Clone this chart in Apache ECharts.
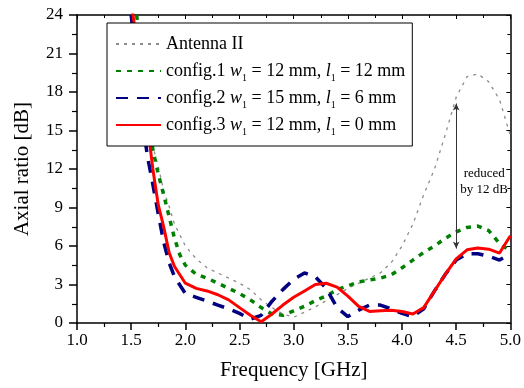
<!DOCTYPE html>
<html>
<head>
<meta charset="utf-8">
<script src="https://cdn.jsdelivr.net/npm/echarts@6/dist/echarts.min.js"></script>
<style>html,body{margin:0;padding:0;background:#fff;}#c{width:524px;height:388px;}</style>
</head>
<body>
<div id="c"></div>
<script>
const seriesNames = ['Antenna II', 'config.1 w1 = 12 mm, l1 = 12 mm', 'config.2 w1 = 15 mm, l1 = 6 mm', 'config.3 w1 = 12 mm, l1 = 0 mm'];
const xTicks = [1.0, 1.5, 2.0, 2.5, 3.0, 3.5, 4.0, 4.5, 5.0];
const yTicks = [0, 3, 6, 9, 12, 15, 18, 21, 24];

const antenna2 = [[1.55,24.5],[1.6,21],[1.65,17.5],[1.7,13.8],[1.75,12.2],[1.8,10.3],[1.85,9.1],[1.9,7.7],[2.0,6.0],[2.1,5.0],[2.2,4.3],[2.3,3.9],[2.4,3.5],[2.5,3.1],[2.6,2.6],[2.7,1.8],[2.8,1.2],[2.9,0.7],[3.0,0.45],[3.1,0.85],[3.2,1.25],[3.3,1.75],[3.4,2.2],[3.5,2.7],[3.6,3.1],[3.7,3.5],[3.8,3.9],[3.9,4.7],[4.0,6.0],[4.1,7.7],[4.2,10.0],[4.3,12.0],[4.4,14.7],[4.5,17.6],[4.6,19.2],[4.7,19.4],[4.8,18.8],[4.9,17.4],[5.0,14.6]];
const config1 = [[1.55,24],[1.6,20.5],[1.65,17],[1.7,13.5],[1.75,11.6],[1.8,10],[1.85,8.3],[1.9,6.6],[1.95,5.3],[2.0,4.5],[2.1,3.8],[2.2,3.5],[2.3,3.1],[2.4,2.7],[2.5,2.3],[2.6,1.8],[2.7,1.2],[2.8,0.7],[2.9,0.6],[3.0,0.95],[3.1,1.3],[3.2,1.75],[3.3,2.1],[3.4,2.6],[3.5,2.9],[3.6,3.2],[3.7,3.35],[3.8,3.5],[3.9,3.75],[4.0,4.3],[4.1,4.9],[4.2,5.5],[4.3,6.0],[4.4,6.6],[4.5,7.1],[4.6,7.45],[4.7,7.55],[4.8,7.2],[4.9,6.2],[5.0,5.6]];
const config2 = [[1.5,24],[1.55,20],[1.6,16],[1.65,13],[1.7,10.8],[1.75,8.5],[1.8,6.3],[1.85,4.7],[1.9,3.6],[2.0,2.3],[2.1,2.0],[2.2,1.7],[2.3,1.4],[2.4,1.1],[2.5,0.75],[2.6,0.3],[2.7,0.6],[2.8,1.7],[2.9,2.6],[3.0,3.4],[3.1,3.9],[3.2,3.6],[3.3,2.7],[3.4,1.2],[3.5,0.5],[3.6,1.0],[3.7,1.4],[3.8,1.4],[3.9,1.1],[4.0,0.75],[4.1,0.5],[4.2,1.1],[4.3,2.5],[4.4,3.8],[4.5,4.9],[4.6,5.4],[4.7,5.4],[4.8,5.2],[4.9,4.9],[5.0,5.4]];
const config3 = [[1.5,25],[1.55,22],[1.6,18.5],[1.65,15.5],[1.7,12],[1.75,9.2],[1.8,7.5],[1.85,5.5],[1.9,4.4],[2.0,3.1],[2.1,2.7],[2.2,2.5],[2.3,2.2],[2.4,1.8],[2.5,1.2],[2.6,0.6],[2.7,0.1],[2.8,0.7],[2.9,1.4],[3.0,2.0],[3.1,2.5],[3.2,3.0],[3.3,3.1],[3.4,2.8],[3.5,2.1],[3.6,1.3],[3.7,0.9],[3.8,0.95],[3.9,1.0],[4.0,0.9],[4.1,0.7],[4.2,1.2],[4.3,2.5],[4.4,3.8],[4.5,5.0],[4.6,5.7],[4.7,5.85],[4.8,5.75],[4.9,5.45],[5.0,6.8]];
const arrowX = 4.5, arrowTop = 17.1, arrowBottom = 5.8;
const annotation = ['reduced', 'by 12 dB'];

const FONT = 'Liberation Serif';
const chart = echarts.init(document.getElementById('c'), null, {renderer: 'canvas'});

function legendFmt(name) {
  return name.replace('w1', '{i|w}{s|1}').replace('l1', '{i|l}{s|1}');
}

const axisCommon = {
  axisLine: {show: true, onZero: false, lineStyle: {color: '#000', width: 1.5}},
  splitLine: {show: false}
};

chart.setOption({
  animation: false,
  backgroundColor: '#fff',
  grid: {left: 77, right: 11, top: 15, bottom: 65},
  legend: {
    orient: 'vertical', left: 107, top: 23,
    padding: [9, 7, 9, 8], itemGap: 3, itemWidth: 45, itemHeight: 14,
    backgroundColor: '#fff', borderColor: '#000', borderWidth: 1,
    data: seriesNames,
    formatter: legendFmt,
    itemStyle: {opacity: 0},
    textStyle: {
      fontFamily: FONT, fontSize: 18, color: '#000', lineHeight: 24,
      rich: {
        i: {fontFamily: FONT, fontSize: 18, fontStyle: 'italic', color: '#000', lineHeight: 24},
        s: {fontFamily: FONT, fontSize: 10, color: '#000', lineHeight: 10, verticalAlign: 'bottom'}
      }
    }
  },
  xAxis: [
    Object.assign({}, axisCommon, {
      type: 'value', min: xTicks[0], max: xTicks[xTicks.length - 1], interval: 0.5, position: 'bottom',
      name: 'Frequency [GHz]', nameLocation: 'middle', nameGap: 37,
      nameTextStyle: {fontFamily: FONT, fontSize: 21, color: '#000'},
      axisTick: {show: true, inside: false, length: 7, lineStyle: {color: '#000', width: 1.5}},
      minorTick: {show: true, splitNumber: 2, length: 4, lineStyle: {color: '#000', width: 1.2}},
      axisLabel: {fontFamily: FONT, fontSize: 17, color: '#000', margin: 9, formatter: v => v.toFixed(1)}
    }),
    Object.assign({}, axisCommon, {
      type: 'value', min: 1, max: 5, interval: 0.5, position: 'top',
      axisTick: {show: true, inside: true, length: 4, lineStyle: {color: '#000', width: 1}},
      minorTick: {show: true, splitNumber: 2, length: 3, lineStyle: {color: '#000', width: 1}},
      axisLabel: {show: false}
    })
  ],
  yAxis: [
    Object.assign({}, axisCommon, {
      type: 'value', min: yTicks[0], max: yTicks[yTicks.length - 1], interval: 3, position: 'left',
      name: 'Axial ratio [dB]', nameLocation: 'middle', nameGap: 44,
      nameTextStyle: {fontFamily: FONT, fontSize: 21, color: '#000'},
      axisTick: {show: true, inside: false, length: 8, lineStyle: {color: '#000', width: 1.5}},
      minorTick: {show: true, splitNumber: 2, length: 5, lineStyle: {color: '#000', width: 1.2}},
      axisLabel: {fontFamily: FONT, fontSize: 17, color: '#000', margin: 14}
    }),
    Object.assign({}, axisCommon, {
      type: 'value', min: 0, max: 24, interval: 3, position: 'right',
      axisTick: {show: true, inside: true, length: 4, lineStyle: {color: '#000', width: 1}},
      minorTick: {show: true, splitNumber: 2, length: 3, lineStyle: {color: '#000', width: 1}},
      axisLabel: {show: false}
    })
  ],
  series: [
    {name: seriesNames[0], type: 'line', data: antenna2, symbol: 'none', clip: true,
     lineStyle: {color: '#8c8c8c', width: 1.3, type: [3, 5]}, itemStyle: {color: '#8c8c8c'}},
    {name: seriesNames[1], type: 'line', data: config1, symbol: 'none', clip: true,
     lineStyle: {color: '#008000', width: 3.5, type: [5, 6]}, itemStyle: {color: '#008000'}},
    {name: seriesNames[2], type: 'line', data: config2, symbol: 'none', clip: true,
     lineStyle: {color: '#000080', width: 3.5, type: [12, 9]}, itemStyle: {color: '#000080'}},
    {name: seriesNames[3], type: 'line', data: config3, symbol: 'none', clip: true,
     lineStyle: {color: '#ff0000', width: 3}, itemStyle: {color: '#ff0000'},
     markLine: {
       silent: true, symbol: ['arrow', 'arrow'], symbolSize: [5, 7],
       label: {show: false},
       lineStyle: {color: '#333', width: 1, type: 'solid'},
       data: [[{coord: [arrowX, arrowTop]}, {coord: [arrowX, arrowBottom]}]]
     }}
  ]
});

const p1 = chart.convertToPixel({xAxisIndex: 0, yAxisIndex: 0}, [arrowX, (arrowTop + arrowBottom) / 2]);
chart.setOption({
  graphic: [
    {type: 'text', x: p1[0] + 28, y: p1[1] - 2, style: {text: annotation[0], font: '13px "Liberation Serif"', fill: '#000', align: 'center', verticalAlign: 'middle'}},
    {type: 'text', x: p1[0] + 28, y: p1[1] + 14, style: {text: annotation[1], font: '13px "Liberation Serif"', fill: '#000', align: 'center', verticalAlign: 'middle'}}
  ]
});
</script>
</body>
</html>
